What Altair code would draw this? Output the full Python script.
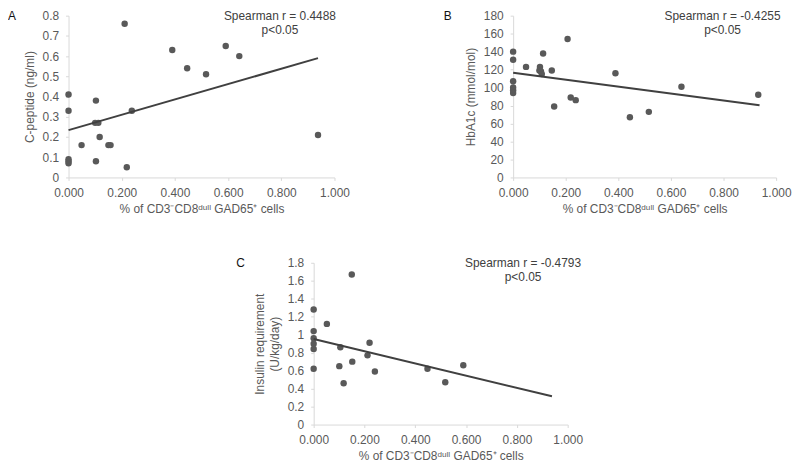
import altair as alt
import pandas as pd

# ---------------- data ----------------
# Panel A: C-peptide
a_x = [0.000, 0.000, 0.000, 0.000, 0.000, 0.211, 0.103, 0.100, 0.112, 0.117, 0.049,
       0.103, 0.150, 0.158, 0.219, 0.238, 0.390, 0.446, 0.517, 0.591, 0.642, 0.938]
a_y = [0.41, 0.33, 0.09, 0.08, 0.07, 0.76, 0.38, 0.27, 0.27, 0.20, 0.16,
       0.08, 0.16, 0.16, 0.05, 0.33, 0.63, 0.54, 0.51, 0.65, 0.60, 0.21]
a_trend_x = [0.0, 0.938]
a_trend_y = [0.234, 0.590]
a_yticks = [0, 0.1, 0.2, 0.3, 0.4, 0.5, 0.6, 0.7, 0.8]

# Panel B: HbA1c
b_x = [0.000, 0.000, 0.000, 0.000, 0.000, 0.000, 0.049, 0.102, 0.100, 0.106, 0.109,
       0.114, 0.147, 0.156, 0.207, 0.219, 0.238, 0.389, 0.444, 0.516, 0.640, 0.932]
b_y = [140, 131, 107, 100, 97, 94, 123, 123, 119, 118, 115,
       138, 119, 79, 154, 89, 86, 116, 67, 73, 101, 92]
b_trend_x = [0.0, 0.937]
b_trend_y = [116.4, 80.4]
b_yticks = [0, 20, 40, 60, 80, 100, 120, 140, 160, 180]

# Panel C: insulin requirement
c_x = [0.000, 0.000, 0.000, 0.000, 0.000, 0.000, 0.052, 0.150, 0.105, 0.101, 0.118,
       0.152, 0.212, 0.220, 0.241, 0.448, 0.518, 0.589]
c_y = [1.28, 1.04, 0.96, 0.90, 0.84, 0.62, 1.12, 1.67, 0.86, 0.65, 0.46,
       0.70, 0.77, 0.91, 0.59, 0.62, 0.47, 0.66]
c_trend_x = [0.0, 0.938]
c_trend_y = [0.952, 0.315]
c_yticks = [0, 0.2, 0.4, 0.6, 0.8, 1.0, 1.2, 1.4, 1.6, 1.8]

x_ticks = [0, 0.2, 0.4, 0.6, 0.8, 1.0]
x_title = "% of CD3\u207bCD8\u1d48\u1d58\u02e1\u02e1 GAD65\u207a cells"

FONT = "Liberation Sans, Arial, sans-serif"
GREY = "#595959"


def panel(xs, ys, tx, ty, yticks, yfmt, ytitle, letter, letter_dx, r_text, w, h, ann_x):
    pts = pd.DataFrame({"x": xs, "y": ys})
    tr = pd.DataFrame({"x": tx, "y": ty})
    xsc = alt.Scale(domain=[0, 1], nice=False, zero=True)
    ysc = alt.Scale(domain=[yticks[0], yticks[-1]], nice=False)
    xax = alt.Axis(values=x_ticks, format=".3f", title=x_title)
    yax = alt.Axis(values=yticks, format=yfmt, title=ytitle)
    xenc = alt.X("x:Q", scale=xsc, axis=xax)
    yenc = alt.Y("y:Q", scale=ysc, axis=yax)

    points = alt.Chart(pts).mark_circle(size=42, color=GREY, opacity=1).encode(x=xenc, y=yenc)
    trend = alt.Chart(tr).mark_line(color="#404040", strokeWidth=2).encode(x=xenc, y=yenc)

    lab = alt.Chart(pd.DataFrame({"t": [letter]})).mark_text(
        align="left", baseline="middle", fontSize=12, font=FONT, color="#111111"
    ).encode(x=alt.value(letter_dx), y=alt.value(0), text="t:N")

    ann = alt.Chart(pd.DataFrame({"t": [r_text, "p<0.05"], "yy": [0, 14]})).mark_text(
        align="center", baseline="middle", fontSize=12, font=FONT, color="#404040"
    ).encode(x=alt.value(ann_x), y=alt.Y("yy:Q", scale=None), text="t:N")

    return alt.layer(points, trend, lab, ann).properties(width=w, height=h)


A = panel(a_x, a_y, a_trend_x, a_trend_y, a_yticks, ".1~f", "C-peptide (ng/ml)",
          "A", -61, "Spearman r = 0.4488", 268, 163, 213)
B = panel(b_x, b_y, b_trend_x, b_trend_y, b_yticks, "d", "HbA1c (mmol/mol)",
          "B", -70, "Spearman r = -0.4255", 265, 163, 211)
C = panel(c_x, c_y, c_trend_x, c_trend_y, c_yticks, ".1~f",
          ["Insulin  requirement", "(U/kg/day)"],
          "C", -78, "Spearman r = -0.4793", 256, 163, 211)

spacer = alt.Chart(pd.DataFrame({"s": [0]})).mark_point(opacity=0).encode(
    x=alt.value(0), y=alt.value(0)
).properties(width=247, height=1)

top = alt.hconcat(A, B, spacing=180, bounds="flush")
bottom = alt.hconcat(spacer, C, spacing=0, bounds="flush")

chart = alt.vconcat(top, bottom, spacing=249, bounds="flush").properties(
    padding=0
).configure_view(stroke=None).configure_axis(
    grid=False,
    labelFont=FONT,
    labelFontSize=12,
    labelColor=GREY,
    labelFlush=False,
    labelOverlap=False,
    titleFont=FONT,
    titleFontSize=12,
    titleFontWeight="normal",
    titleColor=GREY,
    domainColor="#d9d9d9",
    tickColor="#d9d9d9",
    tickSize=3,
    labelPadding=7,
).configure_axisX(titlePadding=5).configure_axisY(titlePadding=6, titleLineHeight=15)

chart.save("out.html", embed_options={"renderer": "svg", "actions": False})
